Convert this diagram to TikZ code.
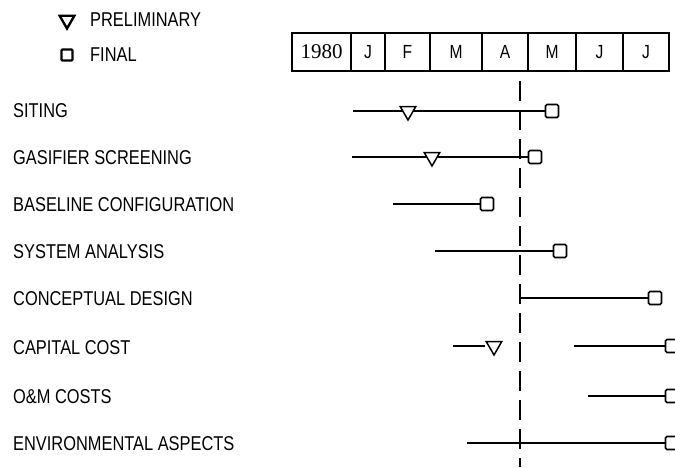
\documentclass[tikz,border=0pt]{standalone}
\usepackage{fontspec}
\setmainfont{Liberation Sans}[FakeStretch=0.82]
\newfontfamily\yearfont{Liberation Serif}
\usetikzlibrary{shapes.geometric}
\begin{document}
\begin{tikzpicture}[x=1pt,y=-1pt,
  lbl/.style={anchor=west,inner sep=0pt,font=\fontsize{20}{20}\selectfont},
  cell/.style={draw,line width=1.5pt,minimum height=38pt,inner sep=0pt,font=\fontsize{19}{19}\selectfont},
  fin/.style={draw,line width=1.6pt,fill=white,rounded corners=1.5pt,minimum size=13pt,inner sep=0pt},
  pre/.style={draw,line width=1.5pt,fill=white,regular polygon,regular polygon sides=3,shape border rotate=180,minimum size=18pt,inner sep=0pt},
  bar/.style={line width=1.3pt},
  today/.style={line width=1.5pt,dash pattern=on 20pt off 9pt}]
\useasboundingbox (0,0) rectangle (675,467);
% legend
\node[pre,line width=2.4pt,minimum size=17pt] (lp) at (67,20) {};
\node[lbl] (lpt) at (90,20) {PRELIMINARY};
\node[draw,line width=2.4pt,minimum size=11pt,inner sep=0pt,rounded corners=1pt] (lf) at (67,55) {};
\node[lbl] (lft) at (90,55) {FINAL};
% header
\node[cell,minimum width=59pt,font=\yearfont\fontsize{21}{21}\selectfont] (c0) at (321.5,52) {1980};
\node[cell,minimum width=34pt] (c1) at (368,52) {J};
\node[cell,minimum width=45pt] (c2) at (407.5,52) {F};
\node[cell,minimum width=52pt] (c3) at (456,52) {M};
\node[cell,minimum width=46pt] (c4) at (505,52) {A};
\node[cell,minimum width=48pt] (c5) at (552,52) {M};
\node[cell,minimum width=47pt] (c6) at (599.5,52) {J};
\node[cell,minimum width=46pt] (c7) at (646,52) {J};
% today line
\coordinate (nt) at (520,81);
\coordinate (nb) at (520,467);
\draw[today] (nt) -- (nb);
% labels
\node[lbl] (r1) at (13,111) {SITING};
\node[lbl] (r2) at (13,158) {GASIFIER SCREENING};
\node[lbl] (r3) at (13,205) {BASELINE CONFIGURATION};
\node[lbl] (r4) at (13,252) {SYSTEM ANALYSIS};
\node[lbl] (r5) at (13,299) {CONCEPTUAL DESIGN};
\node[lbl] (r6) at (13,348) {CAPITAL COST};
\node[lbl] (r7) at (13,397) {O\&M COSTS};
\node[lbl] (r8) at (13,444) {ENVIRONMENTAL ASPECTS};
% bars
\coordinate (s1) at (353,111);
\node[fin] (f1) at (552,111) {};
\draw[bar] (s1) -- (f1);
\node[pre] (p1) at (408,111) {};
\coordinate (s2) at (352,157);
\node[fin] (f2) at (535,157) {};
\draw[bar] (s2) -- (f2);
\node[pre] (p2) at (432,157) {};
\coordinate (s3) at (393,204);
\node[fin] (f3) at (487,204) {};
\draw[bar] (s3) -- (f3);
\coordinate (s4) at (435,251);
\node[fin] (f4) at (560,251) {};
\draw[bar] (s4) -- (f4);
\coordinate (s5) at (520,298);
\coordinate (s5t) at (520,285);
\coordinate (s5b) at (520,304);
\node[fin] (f5) at (655,298) {};
\draw[bar] (s5) -- (f5);
\draw[line width=1.5pt] (s5t) -- (s5b);
\coordinate (s6) at (453,346);
\node[pre] (p6) at (494,346) {};
\draw[bar] (s6) -- (p6.corner 3 |- s6);
\coordinate (s6b) at (574,346);
\node[fin] (f6) at (672,346) {};
\draw[bar] (s6b) -- (f6);
\coordinate (s7) at (588,396);
\node[fin] (f7) at (672,396) {};
\draw[bar] (s7) -- (f7);
\coordinate (s8) at (467,443);
\node[fin] (f8) at (672,443) {};
\draw[bar] (s8) -- (f8);
\end{tikzpicture}
\end{document}
